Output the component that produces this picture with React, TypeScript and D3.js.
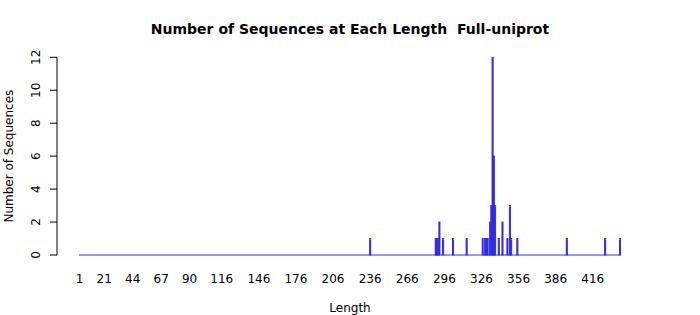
import React from "react";
import * as d3 from "d3";

const maxLength = 438;
const seqLengths = [236, 289, 290, 291, 292, 295, 303, 314, 327, 329, 330, 331, 333, 334, 335, 336, 337, 340, 343, 347, 349, 350, 355, 395, 426, 438];
const seqCounts = [1, 1, 1, 1, 2, 1, 1, 1, 1, 1, 1, 1, 2, 3, 12, 6, 3, 1, 2, 1, 3, 1, 1, 1, 1, 1];
const xTickLabels = [1, 21, 44, 67, 90, 116, 146, 176, 206, 236, 266, 296, 326, 356, 386, 416];
const yTicks = [0, 2, 4, 6, 8, 10, 12];

const W = 700;
const H = 315;
const FONT = "'DejaVu Sans', 'Liberation Sans', sans-serif";

export default function App() {
  const categories = d3.range(1, maxLength + 1);
  const x = d3
    .scaleBand<number>()
    .domain(categories)
    .range([79, 620.5])
    .paddingInner(0.1667)
    .paddingOuter(0);
  const y = d3.scaleLinear().domain([0, 12]).range([255, 57.3]);
  const bw = x.bandwidth();
  const barFill = "#4a00d0";
  const barStroke = "#3030e6";
  const x0 = x(1)!;
  const x1 = x(maxLength)! + bw;

  return (
    <svg
      width={W}
      height={H}
      style={{ position: "absolute", left: 0, top: 0, background: "#fff" }}
      fontFamily={FONT}
    >
      <rect x={0} y={0} width={W} height={H} fill="#fff" />
      <text
        x={350}
        y={34}
        textAnchor="middle"
        fontWeight="bold"
        fontSize={14}
        style={{ whiteSpace: "pre" }}
        xmlSpace="preserve"
      >
        {"Number of Sequences at Each Length  Full-uniprot"}
      </text>

      {/* baseline of zero-height bars */}
      <line x1={x0} x2={x1} y1={y(0)} y2={y(0)} stroke={barStroke} strokeWidth={1} />

      {seqLengths.map((L, i) => (
        <rect
          key={L}
          x={x(L)!}
          y={y(seqCounts[i])}
          width={bw}
          height={y(0) - y(seqCounts[i])}
          fill={barFill}
          stroke={barStroke}
          strokeWidth={1}
        />
      ))}

      {/* y axis */}
      <line x1={57} x2={57} y1={y(0)} y2={y(12)} stroke="#000" strokeWidth={1} />
      {yTicks.map((t) => (
        <g key={t}>
          <line x1={50} x2={57} y1={y(t)} y2={y(t)} stroke="#000" strokeWidth={1} />
          <text
            transform={`translate(36,${y(t)}) rotate(-90)`}
            textAnchor="middle"
            dominantBaseline="central"
            fontSize={12}
          >
            {t}
          </text>
        </g>
      ))}
      <text
        transform={`translate(9,${(y(0) + y(12)) / 2}) rotate(-90)`}
        textAnchor="middle"
        dominantBaseline="central"
        fontSize={12}
      >
        Number of Sequences
      </text>

      {/* x tick labels */}
      {xTickLabels.map((L) => (
        <text
          key={L}
          x={x(L)! + bw / 2}
          y={279}
          textAnchor="middle"
          dominantBaseline="central"
          fontSize={12}
        >
          {L}
        </text>
      ))}
      <text x={350} y={308} textAnchor="middle" dominantBaseline="central" fontSize={12}>
        Length
      </text>
    </svg>
  );
}
